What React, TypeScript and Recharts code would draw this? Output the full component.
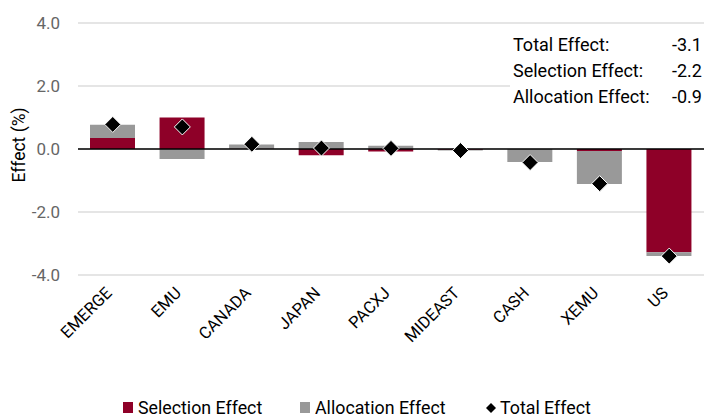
import React from "react";
import {
  ComposedChart,
  Bar,
  Scatter,
  XAxis,
  YAxis,
  CartesianGrid,
  ReferenceLine,
  Legend,
  Label,
} from "recharts";

const categories = ["EMERGE", "EMU", "CANADA", "JAPAN", "PACXJ", "MIDEAST", "CASH", "XEMU", "US"];
const selectionEffect = [0.35, 1.0, 0.01, -0.2, -0.08, -0.02, 0.0, -0.06, -3.28];
const allocationEffect = [0.42, -0.32, 0.13, 0.22, 0.1, -0.03, -0.41, -1.05, -0.12];
const totalEffect = [0.78, 0.7, 0.15, 0.03, 0.02, -0.05, -0.43, -1.1, -3.4];
const yTicks = [-4, -2, 0, 2, 4];
const summaryLabels = ["Total Effect:", "Selection Effect:", "Allocation Effect:"];
const summaryValues = ["-3.1", "-2.2", "-0.9"];

const RED = "#8E0028";
const GRAY = "#999999";
const FONT = "Roboto, 'DejaVu Sans', sans-serif";

const data = categories.map((c, i) => ({
  name: c,
  selection: selectionEffect[i],
  allocation: allocationEffect[i],
  total: totalEffect[i],
}));

const Diamond = (props: any) => {
  const { cx, cy } = props;
  if (cx == null || cy == null) return null;
  const r = 8;
  return (
    <polygon
      points={`${cx},${cy - r} ${cx + r},${cy} ${cx},${cy + r} ${cx - r},${cy}`}
      fill="#000"
      stroke="#fff"
      strokeWidth={1}
    />
  );
};

const XTick = (props: any) => {
  const { x, y, payload } = props;
  return (
    <g transform={`translate(${x},${y + 11})`}>
      <text
        x={0}
        y={0}
        textAnchor="end"
        transform="rotate(-45)"
        fontSize={16.5}
        fill="#000"
        fontFamily={FONT}
      >
        {payload.value}
      </text>
    </g>
  );
};

const LegendContent = () => (
  <div
    style={{
      position: "relative",
      height: 30,
      fontFamily: FONT,
      fontSize: 17.8,
      color: "#000",
    }}
  >
    <div style={{ position: "absolute", left: 123, top: 10, display: "flex", alignItems: "center" }}>
      <span style={{ width: 10, height: 11, background: RED, display: "inline-block", marginRight: 5 }} />
      <span>Selection Effect</span>
    </div>
    <div style={{ position: "absolute", left: 300, top: 10, display: "flex", alignItems: "center" }}>
      <span style={{ width: 10, height: 11, background: GRAY, display: "inline-block", marginRight: 5 }} />
      <span>Allocation Effect</span>
    </div>
    <div style={{ position: "absolute", left: 486, top: 10, display: "flex", alignItems: "center" }}>
      <svg width={10} height={10} style={{ marginRight: 4 }}>
        <polygon points="5,0 10,5 5,10 0,5" fill="#000" />
      </svg>
      <span>Total Effect</span>
    </div>
  </div>
);

export default function App() {
  return (
    <div style={{ position: "absolute", left: 0, top: 0, width: 704, height: 417, background: "#fff" }}>
      <ComposedChart
        width={704}
        height={417}
        data={data}
        stackOffset="sign"
        margin={{ top: 23, right: 0, bottom: 0, left: 0 }}
      >
        <CartesianGrid vertical={false} stroke="#dddddd" strokeWidth={1.5} />
        <XAxis
          dataKey="name"
          axisLine={false}
          tickLine={false}
          interval={0}
          height={112}
          tick={<XTick />}
        />
        <YAxis
          domain={[-4, 4]}
          ticks={yTicks}
          width={78}
          axisLine={false}
          tickLine={false}
          tickFormatter={(v: number) => v.toFixed(1)}
          tick={{ fontSize: 17, fill: "#666", fontFamily: FONT }}
          tickMargin={12}
        >
          <Label
            value="Effect (%)"
            angle={-90}
            position="insideLeft"
            offset={19}
            dy={-4}
            style={{ textAnchor: "middle", fontSize: 17.5, fill: "#000", fontFamily: FONT }}
          />
        </YAxis>
        <Bar dataKey="selection" stackId="a" fill={RED} barSize={45} isAnimationActive={false} />
        <Bar dataKey="allocation" stackId="a" fill={GRAY} barSize={45} isAnimationActive={false} />
        <ReferenceLine y={0} stroke="#000" strokeWidth={1.5} />
        <Scatter dataKey="total" shape={<Diamond />} isAnimationActive={false} />
        <Legend verticalAlign="bottom" height={30} content={<LegendContent />} />
      </ComposedChart>
      <div
        style={{
          position: "absolute",
          left: 510,
          top: 32,
          width: 194,
          height: 80,
          background: "#fff",
          fontFamily: FONT,
          fontSize: 18,
          color: "#000",
        }}
      >
        {summaryLabels.map((l, i) => (
          <div key={l} style={{ position: "absolute", top: i * 26, left: 3, height: 26, lineHeight: "26px", width: 191 }}>
            <span>{l}</span>
            <span style={{ position: "absolute", left: 159 }}>{summaryValues[i]}</span>
          </div>
        ))}
      </div>
    </div>
  );
}
